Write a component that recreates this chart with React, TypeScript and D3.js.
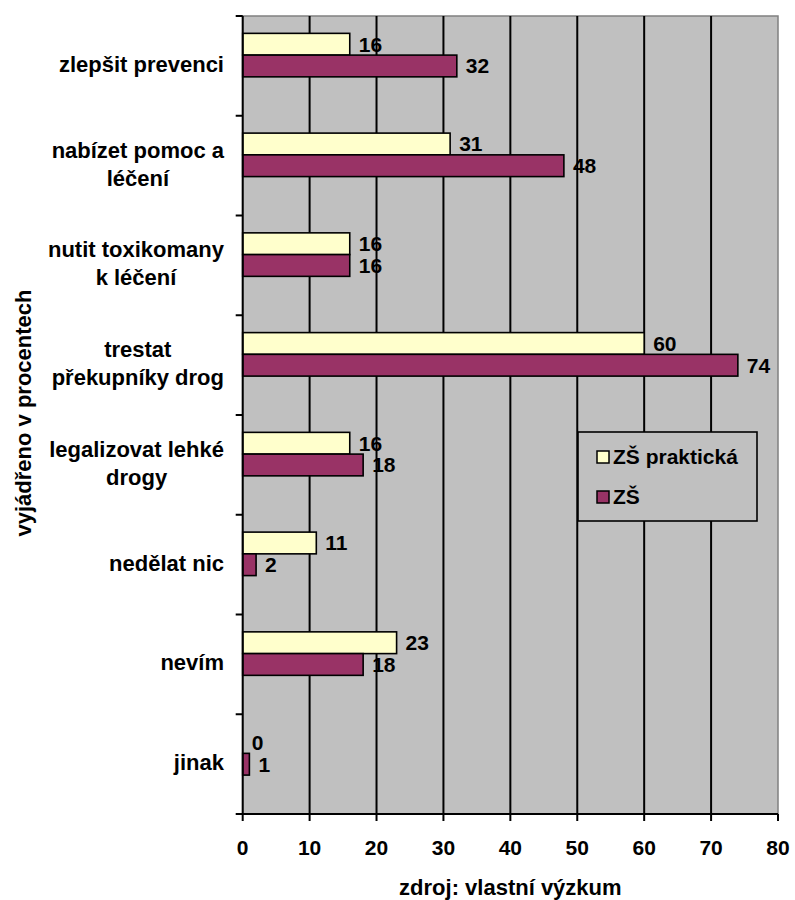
import React from "react";
import * as d3 from "d3";

// Survey answers (percent) for two school types
const categories: string[][] = [
  ["zlepšit prevenci"],
  ["nabízet pomoc a", "léčení"],
  ["nutit toxikomany", "k léčení"],
  ["trestat", "překupníky drog"],
  ["legalizovat lehké", "drogy"],
  ["nedělat nic"],
  ["nevím"],
  ["jinak"],
];
const seriesNames = ["ZŠ praktická", "ZŠ"];
const praktickaValues = [16, 31, 16, 60, 16, 11, 23, 0];
const zsValues = [32, 48, 16, 74, 18, 2, 18, 1];
const xTicks = [0, 10, 20, 30, 40, 50, 60, 70, 80];
const seriesColors = ["#FFFFCC", "#993366"];

const FONT = "'Liberation Sans', Arial, sans-serif";

const W = 795;
const H = 900;
const left = 242.7;
const right = 778;
const top = 16;
const bottom = 814;

let measureCtx: CanvasRenderingContext2D | null = null;
function textWidth(s: string, size: number): number {
  if (!measureCtx) {
    const c = document.createElement("canvas");
    measureCtx = c.getContext("2d");
  }
  if (!measureCtx) return s.length * size * 0.55;
  measureCtx.font = `bold ${size}px ${FONT}`;
  return measureCtx.measureText(s).width;
}

export default function App() {
  const x = d3.scaleLinear().domain([0, 80]).range([left, right]);
  const y = d3
    .scaleBand<number>()
    .domain(d3.range(categories.length))
    .range([top, bottom])
    .padding(0);
  const bw = y.bandwidth();
  const barH = bw * 0.218;
  const barOffsets = [bw * 0.174, bw * 0.174 + barH];
  const series = [praktickaValues, zsValues];

  const catSize = 22;
  const labelRight = 224;

  return (
    <svg
      width={W}
      height={H}
      style={{ position: "absolute", left: 0, top: 0, background: "#fff" }}
      fontFamily={FONT}
      fontWeight="bold"
    >
      {/* plot area */}
      <rect x={left} y={top} width={right - left} height={bottom - top} fill="#C0C0C0" stroke="#808080" strokeWidth={1.5} />

      {/* vertical gridlines */}
      {xTicks.slice(1, -1).map((t) => (
        <line key={"g" + t} x1={x(t)} x2={x(t)} y1={top} y2={bottom} stroke="#000" strokeWidth={2} />
      ))}

      {/* bars */}
      {series.map((vals, si) =>
        vals.map((v, i) => (
          <rect
            key={`b${si}-${i}`}
            x={x(0)}
            y={(y(i) as number) + barOffsets[si]}
            width={x(v) - x(0)}
            height={barH}
            fill={seriesColors[si]}
            stroke="#000"
            strokeWidth={1.6}
          />
        ))
      )}

      {/* value labels */}
      {series.map((vals, si) =>
        vals.map((v, i) => (
          <text
            key={`v${si}-${i}`}
            x={x(v) + 9}
            y={(y(i) as number) + barOffsets[si] + barH / 2 + 7.5}
            fontSize={21}
            fill="#000"
          >
            {v}
          </text>
        ))
      )}

      {/* axes */}
      <line x1={left} x2={left} y1={top} y2={bottom + 1} stroke="#000" strokeWidth={2} />
      <line x1={left - 1} x2={right} y1={bottom} y2={bottom} stroke="#000" strokeWidth={2} />

      {/* category tick marks */}
      {d3.range(categories.length + 1).map((i) => {
        const yy = top + i * bw;
        return <line key={"yt" + i} x1={left - 7} x2={left} y1={yy} y2={yy} stroke="#000" strokeWidth={2} />;
      })}

      {/* x ticks and labels */}
      {xTicks.map((t) => (
        <g key={"xt" + t}>
          <line x1={x(t)} x2={x(t)} y1={bottom} y2={bottom + 7} stroke="#000" strokeWidth={2} />
          <text x={x(t)} y={bottom + 41} textAnchor="middle" fontSize={21} fill="#000">
            {t}
          </text>
        </g>
      ))}

      {/* category labels */}
      {categories.map((lines, i) => {
        const widths = lines.map((l) => textWidth(l, catSize));
        const maxW = Math.max(...widths);
        const cx = labelRight - maxW / 2;
        const center = (y(i) as number) + bw / 2;
        const lh = 28;
        const first = center + 6 - ((lines.length - 1) * lh) / 2;
        return (
          <text key={"c" + i} textAnchor="middle" fontSize={catSize} fill="#000">
            {lines.map((l, li) => (
              <tspan key={li} x={cx} y={first + li * lh}>
                {l}
              </tspan>
            ))}
          </text>
        );
      })}

      {/* axis titles */}
      <text x={(left + right) / 2} y={895} textAnchor="middle" fontSize={22} fill="#000">
        zdroj: vlastní výzkum
      </text>
      <text transform="translate(31,413) rotate(-90)" textAnchor="middle" fontSize={22} fill="#000">
        vyjádřeno v procentech
      </text>

      {/* legend */}
      <rect x={578} y={432} width={179} height={89} fill="#C0C0C0" stroke="#000" strokeWidth={1.6} />
      {seriesNames.map((name, i) => (
        <g key={"lg" + i}>
          <rect x={597} y={451 + i * 40} width={12} height={12} fill={seriesColors[i]} stroke="#000" strokeWidth={1.5} />
          <text x={613} y={464 + i * 40} fontSize={21} fill="#000">
            {name}
          </text>
        </g>
      ))}
    </svg>
  );
}
